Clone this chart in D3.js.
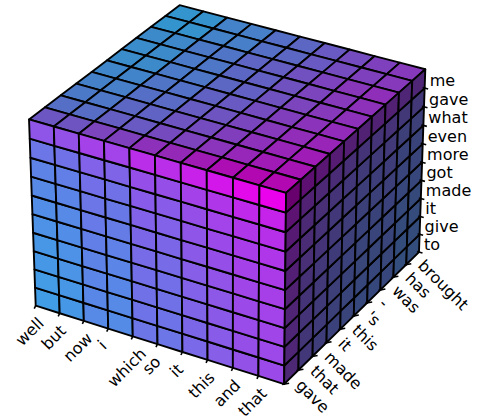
<!DOCTYPE html>
<html><head><meta charset="utf-8"><style>html,body{margin:0;padding:0;background:#fff}svg{display:block}text{font-family:"DejaVu Sans";font-size:16px;fill:#000}</style>
<script src="https://cdn.jsdelivr.net/npm/d3@7"></script></head><body><svg id="c" width="500" height="417"></svg>
<script>
const xLabels=["well","but","now","i","which","so","it","this","and","that"];
const yLabels=["gave","that","made","it","this","'s","-","was","has","brought"];
const zLabels=["to","give","it","made","got","more","even","what","gave","me"];
// colour value read per position along each axis
const xWeights=[.28,.30,.37,.36,.46,.46,.52,.57,.63,.66];
const xWeightsTop=[.27,.28,.36,.38,.46,.50,.57,.64,.70,.74];
const yWeights=[0,-.13,-.18,-.22,-.25,-.28,-.28,-.27,-.32,-.32];
const zWeights=[0,.01,.02,.03,.05,.07,.09,.12,.18,.33];
const frontRamp=["#3f9fe6","#eb00eb"], topRamp=["#3296cd","#b208b2"], rightRamp=["#2d557d","#69006e"];

const elev=30*Math.PI/180, azim=-60*Math.PI/180, box=[4,4,3], dist=45;
const kx=71.3, ky=71, cx=230, cy=187.8;
const X=d3.scaleLinear().domain([0,10]).range([0,box[0]]);
const Y=d3.scaleLinear().domain([0,10]).range([0,box[1]]);
const Z=d3.scaleLinear().domain([0,10]).range([0,box[2]]);
const T=d3.scaleLinear().domain([.27,1]).range([0,1]).clamp(true);
const e=[Math.cos(azim)*Math.cos(elev),Math.sin(azim)*Math.cos(elev),Math.sin(elev)];
const r=[-Math.sin(azim),Math.cos(azim),0];
const u=[-Math.sin(elev)*Math.cos(azim),-Math.sin(elev)*Math.sin(azim),Math.cos(elev)];
const dot=(a,b)=>a[0]*b[0]+a[1]*b[1]+a[2]*b[2];
function P(a,b,c){const p=[X(a)-box[0]/2,Y(b)-box[1]/2,Z(c)-box[2]/2];const f=dist/(dist-dot(p,e));return [cx+kx*dot(p,r)*f,cy-ky*dot(p,u)*f];}
const svg=d3.select("#c");
const col=(t,ramp)=>d3.interpolateRgb(ramp[0],ramp[1])(T(t));
const idx=d3.range(10), line=d3.line();
function cell(pts,fill){svg.append("path").attr("d",line(pts)+"Z").attr("fill",fill).attr("stroke","#000").attr("stroke-width",1.9).attr("stroke-linejoin","round");}
for(const j of idx.slice().reverse())for(const i of idx)cell([P(i,j,10),P(i+1,j,10),P(i+1,j+1,10),P(i,j+1,10)],col(xWeightsTop[i]+yWeights[j]+zWeights[9],topRamp));
for(const k of idx)for(const i of idx)cell([P(i,0,k),P(i+1,0,k),P(i+1,0,k+1),P(i,0,k+1)],col(xWeights[i]+zWeights[k],frontRamp));
for(const k of idx)for(const j of idx)cell([P(10,j,k),P(10,j+1,k),P(10,j+1,k+1),P(10,j,k+1)],col(xWeights[9]+yWeights[j]+zWeights[k],rightRamp));
const tick=(a,b)=>svg.append("path").attr("d",line([a,b])).attr("stroke","#000").attr("stroke-width",1.6).attr("fill","none");
idx.forEach(i=>{const p=P(i,0,0);tick([p[0],p[1]],[p[0]-1.5,p[1]+3]);
  const t=svg.append("text").attr("text-anchor","middle").attr("dominant-baseline","central").attr("transform","rotate(-45)").text(xLabels[i]);
  const b=t.node().getBoundingClientRect();
  t.attr("transform",`translate(${p[0]-6},${p[1]+8+b.height/2}) rotate(-45)`);});
idx.forEach(j=>{const p=P(10,j,0);tick([p[0]-2,p[1]+.5],[p[0]+5,p[1]-.8]);
  const t=svg.append("text").attr("text-anchor","middle").attr("dominant-baseline","central").attr("transform","rotate(45)").text(yLabels[j]);
  const b=t.node().getBoundingClientRect();
  t.attr("transform",`translate(${p[0]+8+b.width/2},${p[1]-8.5+b.height/2}) rotate(45)`);});
idx.forEach(k=>{const p=P(10,10,k);tick([p[0]-2,p[1]-.5],[p[0]+3.5,p[1]+1]);
  svg.append("text").attr("x",p[0]+5).attr("y",p[1]-7.5).attr("dominant-baseline","central").text(zLabels[k]);});
</script></body></html>
